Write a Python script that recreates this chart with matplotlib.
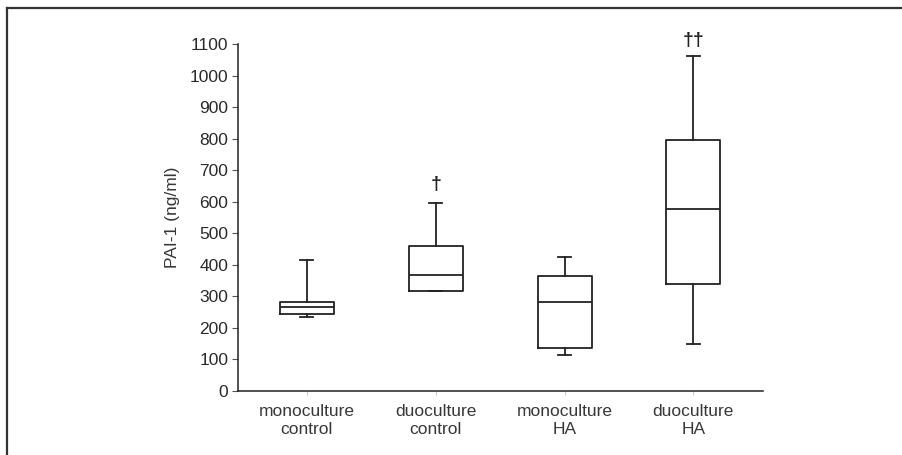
import matplotlib.pyplot as plt
from matplotlib.lines import Line2D

plt.rcParams['font.family'] = ['Liberation Sans', 'DejaVu Sans']

# Box summary values (ng/ml)
groups = ['monoculture\ncontrol', 'duoculture\ncontrol', 'monoculture\nHA', 'duoculture\nHA']
whisker_low = [234, 317, 114, 149]
q1 = [243, 317, 137, 339]
median = [265, 368, 283, 577]
q3 = [283, 460, 364, 796]
whisker_high = [415, 595, 426, 1062]
marks = ['', '\u2020', '', '\u2020\u2020']
mark_y = [0, 655, 0, 1112]

stats = []
for i in range(len(groups)):
    stats.append(dict(whislo=whisker_low[i], q1=q1[i], med=median[i],
                      q3=q3[i], whishi=whisker_high[i], fliers=[]))

fig = plt.figure(figsize=(9.03, 4.55), dpi=100)
ax = fig.add_axes([238 / 903, 1 - 391 / 455, 525 / 903, 347 / 455])

pos = [1, 2, 3, 4]
line = dict(color='#222222', linewidth=1.3)
ax.bxp(stats, positions=pos, widths=0.42, capwidths=0.1,
       boxprops=line, medianprops=line, whiskerprops=line, capprops=line,
       showfliers=False, manage_ticks=False)

for p, m, y in zip(pos, marks, mark_y):
    if m:
        ax.text(p, y, m, ha='center', va='center', fontsize=14,
                fontweight='bold', color='#222222', clip_on=False)

ax.set_xlim(0.465, 4.54)
ax.set_ylim(0, 1100)
ax.set_yticks(range(0, 1101, 100))
ax.set_xticks(pos)
ax.set_xticklabels(groups, fontsize=12.5, color='#383838', linespacing=1.3)
ax.tick_params(axis='y', labelsize=12.5, labelcolor='#2a2a2a', length=4,
               width=0.8, color='#555555', pad=3)
ax.tick_params(axis='x', length=3, width=0.6, color='#bbbbbb', pad=6)
ax.set_ylabel('PAI-1 (ng/ml)', fontsize=12.5, color='#383838', labelpad=7)
for s in ['top', 'right']:
    ax.spines[s].set_visible(False)
for s in ['left', 'bottom']:
    ax.spines[s].set_color('#222222')
    ax.spines[s].set_linewidth(1.1)

# frame on top and left of the image
fig.add_artist(Line2D([7 / 903, 1], [1 - 8 / 455, 1 - 8 / 455],
                      transform=fig.transFigure, color='#333333', linewidth=1.6))
fig.add_artist(Line2D([7 / 903, 7 / 903], [0, 1 - 8 / 455],
                      transform=fig.transFigure, color='#333333', linewidth=1.6))

fig.savefig('out.png', dpi=100)
